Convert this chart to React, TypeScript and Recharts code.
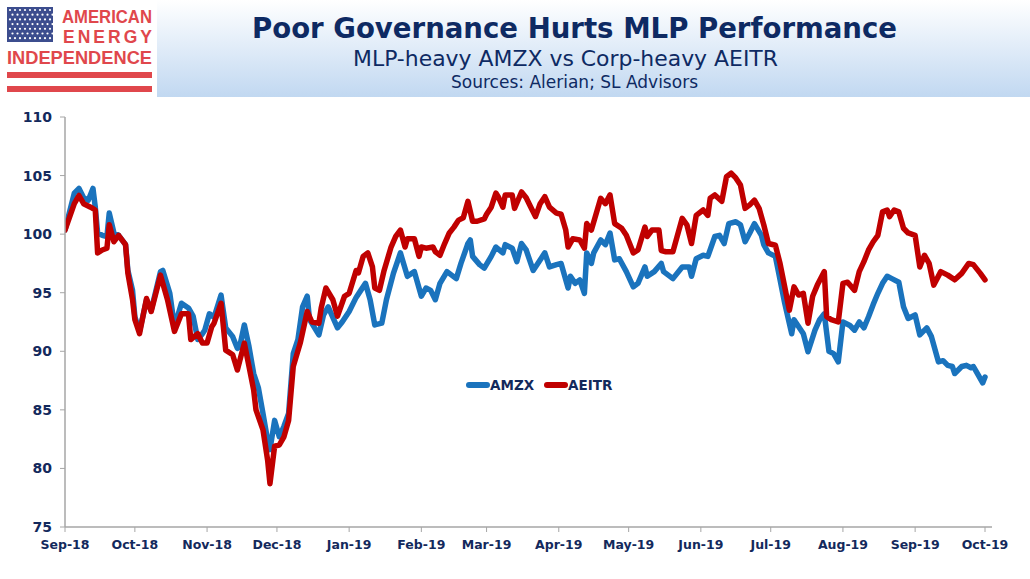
import { Line, LineChart, XAxis, YAxis } from "recharts"

// x values are calendar days counted from 1 Sep 2018
const monthTicks = [0, 30, 61, 91, 122, 153, 181, 212, 242, 273, 303, 334, 365, 395]
const monthLabels = [
  "Sep-18", "Oct-18", "Nov-18", "Dec-18", "Jan-19", "Feb-19", "Mar-19",
  "Apr-19", "May-19", "Jun-19", "Jul-19", "Aug-19", "Sep-19", "Oct-19",
]
const valueTicks = [75, 80, 85, 90, 95, 100, 105, 110]

const amzxDays = [
  0, 4, 6, 8, 10, 12, 13, 14, 16, 18,
  19, 21, 23, 26, 27, 29, 30, 32, 35, 37,
  41, 42, 45, 47, 50, 53, 55, 57, 59, 60,
  62, 64, 67, 69, 72, 74, 75, 77, 79, 81,
  83, 85, 87, 88, 90, 92, 94, 96, 98, 100,
  102, 104, 105, 109, 111, 113, 117, 119, 122, 125,
  127, 129, 131, 133, 136, 138, 141, 144, 147, 150,
  153, 155, 157, 159, 161, 164, 168, 170, 173, 174,
  175, 178, 180, 183, 185, 188, 189, 192, 194, 196,
  198, 201, 203, 206, 208, 211, 213, 216, 217, 219,
  221, 223, 224, 226, 227, 230, 232, 234, 236, 238,
  241, 244, 246, 249, 250, 253, 256, 257, 259, 261,
  265, 268, 269, 271, 274, 276, 279, 281, 283, 285,
  288, 290, 292, 294, 296, 299, 300, 302, 305, 307,
  309, 312, 313, 316, 317, 319, 322, 324, 326, 328,
  330, 332, 334, 337, 339, 341, 343, 345, 347, 349,
  351, 353, 355, 358, 360, 362, 365, 367, 370, 372,
  375, 377, 379, 381, 382, 385, 387, 389, 390, 392,
  394, 395,
]
const amzxVals = [
  100.35, 103.5, 103.9, 103.1, 102.9, 103.9, 102.3, 100.1, 99.9, 99.8,
  101.8, 100.1, 99.9, 99.1, 96.9, 95.2, 92.95, 91.7, 94.4, 93.5,
  96.8, 96.9, 94.95, 92.1, 94.1, 93.7, 93.0, 91.0, 91.5, 91.8,
  93.2, 92.9, 94.8, 92.0, 91.25, 90.25, 90.4, 92.25, 90.4, 88.1,
  86.9, 84.7, 82.4, 81.6, 84.1, 82.7, 83.6, 84.7, 89.8, 91.0,
  93.8, 94.7, 92.7, 91.4, 93.1, 93.8, 92.0, 92.5, 93.4, 94.6,
  95.2, 95.8, 94.4, 92.25, 92.4, 94.4, 96.65, 98.4, 96.4, 96.8,
  94.7, 95.4, 95.2, 94.4, 95.8, 96.8, 96.2, 97.5, 99.2, 99.5,
  98.1, 97.4, 97.1, 98.1, 98.9, 98.4, 99.1, 98.8, 97.65, 99.2,
  98.65, 96.9, 97.5, 98.4, 97.2, 97.4, 97.5, 95.4, 96.4, 95.8,
  96.1, 94.95, 98.4, 97.5, 98.4, 99.5, 99.1, 100.1, 97.8, 97.9,
  96.8, 95.5, 95.8, 97.2, 96.4, 96.8, 97.5, 96.8, 96.5, 96.2,
  97.2, 97.2, 96.4, 97.9, 98.2, 98.1, 99.8, 99.9, 99.2, 100.9,
  101.06, 100.8, 99.35, 100.1, 100.9, 99.9, 99.1, 98.4, 98.1, 96.1,
  94.1, 91.5, 92.7, 91.8, 91.5, 89.96, 91.8, 92.7, 93.2, 90.0,
  89.8, 89.1, 92.5, 92.2, 91.8, 92.5, 92.0, 92.95, 94.0, 94.95,
  95.8, 96.4, 96.2, 95.9, 93.8, 92.8, 93.1, 91.4, 92.0, 91.25,
  89.1, 89.2, 88.8, 88.7, 88.1, 88.7, 88.8, 88.6, 88.7, 88.0,
  87.3, 87.8,
]

const aeitrDays = [
  0, 4, 6, 8, 11, 13, 14, 16, 18, 19,
  21, 23, 26, 27, 29, 30, 32, 35, 37, 41,
  44, 47, 50, 53, 54, 57, 59, 61, 63, 64,
  67, 69, 72, 74, 77, 79, 81, 82, 85, 87,
  88, 90, 92, 94, 96, 98, 101, 104, 106, 109,
  110, 112, 115, 117, 120, 122, 125, 126, 128, 130,
  132, 133, 135, 137, 140, 142, 144, 146, 147, 150,
  152, 153, 155, 158, 159, 161, 163, 165, 167, 169,
  171, 173, 175, 177, 180, 181, 183, 185, 186, 188,
  189, 192, 193, 196, 198, 200, 202, 204, 206, 208,
  211, 213, 215, 216, 218, 221, 223, 224, 226, 230,
  232, 234, 236, 239, 241, 244, 246, 249, 250, 252,
  255, 256, 258, 261, 265, 267, 269, 271, 274, 276,
  277, 279, 282, 284, 286, 288, 290, 292, 294, 296,
  298, 300, 302, 305, 307, 309, 311, 313, 315, 317,
  319, 321, 323, 326, 327, 329, 332, 334, 336, 339,
  341, 343, 345, 347, 349, 351, 353, 354, 356, 358,
  360, 362, 365, 367, 369, 371, 373, 376, 379, 382,
  385, 388, 390, 393, 395,
]
const aeitrVals = [
  100.35, 102.6, 103.3, 102.6, 102.3, 102.06, 98.4, 98.65, 98.8, 100.8,
  99.35, 99.9, 99.1, 96.65, 94.4, 92.7, 91.5, 94.5, 93.4, 96.5,
  94.4, 91.7, 93.2, 93.2, 91.0, 91.5, 90.7, 90.7, 92.1, 92.4,
  94.1, 90.1, 89.7, 88.4, 90.7, 88.7, 86.7, 85.0, 83.3, 80.7,
  78.7, 81.9, 82.0, 82.7, 84.1, 88.7, 90.7, 93.4, 92.5, 92.4,
  93.7, 95.4, 94.4, 93.0, 94.7, 94.95, 96.9, 96.7, 98.1, 98.4,
  97.2, 95.4, 95.2, 96.9, 98.9, 99.8, 100.35, 98.9, 99.6, 99.6,
  98.1, 98.9, 98.8, 98.9, 98.5, 98.2, 99.2, 100.1, 100.6, 101.2,
  101.4, 102.8, 101.1, 101.1, 101.3, 101.7, 102.3, 103.5, 103.2, 102.3,
  103.35, 103.35, 102.2, 103.6, 103.1, 102.3, 101.5, 102.6, 103.2, 102.3,
  101.8, 101.7, 100.35, 98.9, 99.6, 99.5, 98.8, 100.9, 100.35, 103.06,
  102.6, 103.35, 100.9, 100.5, 99.9, 98.4, 98.65, 100.6, 99.8, 100.35,
  100.35, 98.6, 98.5, 98.5, 101.35, 100.8, 99.2, 101.6, 102.06, 101.6,
  103.06, 103.35, 102.8, 104.9, 105.2, 104.8, 104.2, 102.2, 102.5, 102.9,
  102.2, 100.8, 99.2, 99.05, 97.5, 95.5, 93.5, 95.5, 94.8, 94.95,
  92.4, 94.7, 95.65, 96.8, 92.95, 92.7, 92.5, 95.8, 95.9, 95.2,
  96.8, 97.65, 98.65, 99.35, 99.9, 101.9, 102.06, 101.5, 102.06, 101.9,
  100.5, 100.1, 99.9, 97.2, 98.2, 97.5, 95.65, 96.8, 96.5, 96.1,
  96.65, 97.5, 97.4, 96.65, 96.1,
]

const NAVY = "#13295c"
const BLUE = "#1a73bd"
const RED = "#c00000"
const AXIS = "#a6a6a6"
const LOGO_RED = "#e0474c"

const toRows = (days: number[], vals: number[]) => days.map((d, i) => ({ d, v: vals[i] }))
const amzx = toRows(amzxDays, amzxVals)
const aeitr = toRows(aeitrDays, aeitrVals)

const tickFont = { fill: NAVY, fontWeight: 700, fontFamily: "'DejaVu Sans', Verdana, sans-serif" }

function Header() {
  const stars = []
  for (let r = 0; r < 7; r++) {
    for (let c = 0; c < 9; c++) {
      stars.push(<circle key={`${r}-${c}`} cx={10 + c * 5 + (r % 2) * 2.5} cy={10 + r * 4.7} r={1.1} fill="#fff" />)
    }
  }
  return (
    <svg width={1030} height={100} style={{ position: "absolute", left: 0, top: 0 }}>
      <defs>
        <linearGradient id="hdr" x1="0" y1="0" x2="0" y2="1">
          <stop offset="0" stopColor="#ffffff" />
          <stop offset="1" stopColor="#c1d8f1" />
        </linearGradient>
      </defs>
      <rect x={0} y={0} width={1030} height={97} fill="url(#hdr)" />
      <rect x={0} y={0} width={157} height={97} fill="#fff" />
      <rect x={7} y={7} width={46} height={35} fill="#3c4d8e" />
      {stars}
      <g fill={LOGO_RED} fontFamily="'Liberation Sans', Arial, sans-serif" fontWeight={700} fontSize={17.5}>
        <text x={62} y={23} textLength={90} lengthAdjust="spacingAndGlyphs">AMERICAN</text>
        <text x={63} y={43} textLength={89} lengthAdjust="spacing">ENERGY</text>
        <text x={7} y={64} textLength={145} lengthAdjust="spacingAndGlyphs">INDEPENDENCE</text>
      </g>
      <rect x={7} y={72} width={145} height={6} fill={LOGO_RED} />
      <rect x={7} y={86} width={145} height={6} fill={LOGO_RED} />
      <g fill="#0e2a63" fontFamily="'DejaVu Sans', Verdana, sans-serif">
        <text x={252} y={38} fontSize={29} fontWeight={700} textLength={645} lengthAdjust="spacingAndGlyphs">
          Poor Governance Hurts MLP Performance
        </text>
        <text x={353} y={66} fontSize={21} textLength={425} lengthAdjust="spacingAndGlyphs">
          MLP-heavy AMZX vs Corp-heavy AEITR
        </text>
        <text x={451} y={88} fontSize={17} textLength={247} lengthAdjust="spacingAndGlyphs">
          Sources: Alerian; SL Advisors
        </text>
      </g>
    </svg>
  )
}

function LegendItem({ color, label }: { color: string; label: string }) {
  return (
    <div style={{ display: "flex", alignItems: "center" }}>
      <span style={{ display: "inline-block", width: 24, height: 6, borderRadius: 3, background: color }} />
      <span style={{ ...tickFont, color: NAVY, fontSize: 13.5, lineHeight: "16px" }}>{label}</span>
    </div>
  )
}

export default function App() {
  return (
    <div style={{ position: "relative", width: 1030, height: 579, background: "#fff", overflow: "hidden" }}>
      <style>{"body{margin:0}"}</style>
      <Header />
      <div style={{ position: "absolute", left: 0, top: 100 }}>
        <LineChart width={1030} height={479} margin={{ top: 17, right: 38, bottom: 22, left: 0 }}>
          <XAxis
            type="number" dataKey="d" domain={[0, 398]} ticks={monthTicks}
            tickFormatter={(v: number) => monthLabels[monthTicks.indexOf(v)] ?? ""}
            axisLine={{ stroke: AXIS, strokeWidth: 1.5 }} tickLine={{ stroke: AXIS }}
            tick={{ ...tickFont, fontSize: 12.5 }} tickSize={5} tickMargin={8} height={30}
            interval={0} allowDataOverflow
          />
          <YAxis
            type="number" domain={[75, 110]} ticks={valueTicks} width={65}
            axisLine={{ stroke: AXIS, strokeWidth: 1.5 }} tickLine={{ stroke: AXIS }}
            tick={{ ...tickFont, fontSize: 14 }} tickSize={5} tickMargin={8}
            interval={0} allowDataOverflow
          />
          <Line data={amzx} dataKey="v" name="AMZX" type="linear" stroke={BLUE} strokeWidth={5.5}
            strokeLinejoin="round" strokeLinecap="round" dot={false} isAnimationActive={false} />
          <Line data={aeitr} dataKey="v" name="AEITR" type="linear" stroke={RED} strokeWidth={5.5}
            strokeLinejoin="round" strokeLinecap="round" dot={false} isAnimationActive={false} />
        </LineChart>
      </div>
      <div style={{ position: "absolute", left: 466, top: 377, display: "flex", gap: 10 }}>
        <LegendItem color={BLUE} label="AMZX" />
        <LegendItem color={RED} label="AEITR" />
      </div>
    </div>
  )
}
